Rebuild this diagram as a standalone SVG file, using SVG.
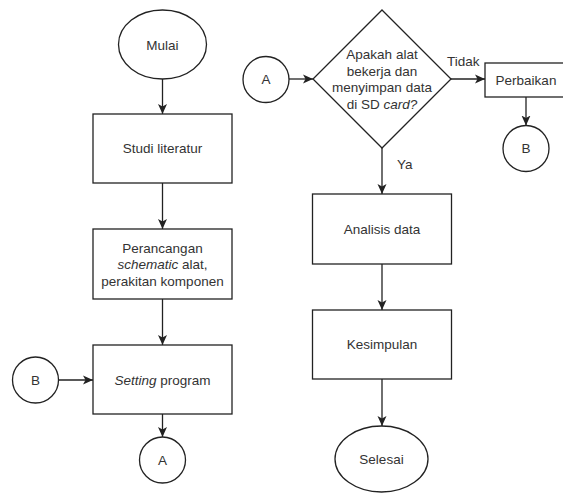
<svg xmlns="http://www.w3.org/2000/svg" width="563" height="493" viewBox="0 0 563 493">
<defs>
<style>
.s{fill:#fff;stroke:#222;stroke-width:1.3}
.t{font-family:"Liberation Sans",Arial,sans-serif;font-size:13.5px;fill:#333;text-anchor:middle}
.l{font-family:"Liberation Sans",Arial,sans-serif;font-size:13.5px;fill:#333}
.c{fill:none;stroke:#222;stroke-width:1.3}
</style>
<marker id="ah" markerUnits="userSpaceOnUse" markerWidth="10" markerHeight="10" viewBox="0 0 10 10" refX="10" refY="5" orient="auto">
<path d="M0,0.5 L10,5 L0,9.5 L2.5,5 z" fill="#222"/>
</marker>
</defs>
<rect width="563" height="493" fill="#fff"/>
<g id="connectors">
<line class="c" x1="162.5" y1="79" x2="162.5" y2="114" marker-end="url(#ah)"/>
<line class="c" x1="162.5" y1="183" x2="162.5" y2="229" marker-end="url(#ah)"/>
<line class="c" x1="162.5" y1="299" x2="162.5" y2="345" marker-end="url(#ah)"/>
<line class="c" x1="58.5" y1="380" x2="93" y2="380" marker-end="url(#ah)"/>
<line class="c" x1="162.5" y1="414" x2="162.5" y2="437" marker-end="url(#ah)"/>
<line class="c" x1="289" y1="79" x2="313" y2="79" marker-end="url(#ah)"/>
<line class="c" x1="451" y1="79" x2="485" y2="79" marker-end="url(#ah)"/>
<text class="l" x="447" y="66">Tidak</text>
<line class="c" x1="526" y1="97" x2="526" y2="125.5" marker-end="url(#ah)"/>
<line class="c" x1="382" y1="148" x2="382" y2="194" marker-end="url(#ah)"/>
<text class="l" x="397" y="169">Ya</text>
<line class="c" x1="382" y1="264" x2="382" y2="310" marker-end="url(#ah)"/>
<line class="c" x1="382" y1="379" x2="382" y2="426" marker-end="url(#ah)"/>
</g>
<g id="mulai">
<ellipse class="s" cx="162.5" cy="44.5" rx="44" ry="34.5"/>
<text class="t" x="162.5" y="49.5">Mulai</text>
</g>
<g id="studi">
<rect class="s" x="93" y="114" width="139" height="69"/>
<text class="t" x="162.5" y="153">Studi literatur</text>
</g>
<g id="perancangan">
<rect class="s" x="93" y="229" width="139" height="70"/>
<text class="t" x="162.5" y="252.5">Perancangan</text>
<text class="t" x="162.5" y="269"><tspan font-style="italic">schematic</tspan> alat,</text>
<text class="t" x="162.5" y="285.5">perakitan komponen</text>
</g>
<g id="setting">
<rect class="s" x="93" y="345" width="139" height="69"/>
<text class="t" x="162.5" y="384.5"><tspan font-style="italic">Setting</tspan> program</text>
</g>
<g id="b-left">
<circle class="s" cx="35.5" cy="380" r="23"/>
<text class="t" x="35.5" y="384.5">B</text>
</g>
<g id="a-bottom">
<circle class="s" cx="162.5" cy="460" r="23"/>
<text class="t" x="162.5" y="464.5">A</text>
</g>
<g id="a-right">
<circle class="s" cx="266" cy="79.5" r="23"/>
<text class="t" x="266" y="84">A</text>
</g>
<g id="decision">
<polygon class="s" points="382,10 451,79 382,148 313,79"/>
<text class="t" x="382" y="59">Apakah alat</text>
<text class="t" x="382" y="75.5">bekerja dan</text>
<text class="t" x="382" y="92">menyimpan data</text>
<text class="t" x="382" y="108.5">di SD <tspan font-style="italic">card?</tspan></text>
</g>
<g id="perbaikan">
<rect class="s" x="485" y="63" width="82" height="34"/>
<text class="t" x="526" y="84.5">Perbaikan</text>
</g>
<g id="b-right">
<circle class="s" cx="526" cy="148.5" r="23"/>
<text class="t" x="526" y="153">B</text>
</g>
<g id="analisis">
<rect class="s" x="312.5" y="194" width="139" height="70"/>
<text class="t" x="382" y="233.5">Analisis data</text>
</g>
<g id="kesimpulan">
<rect class="s" x="312.5" y="310" width="139" height="69"/>
<text class="t" x="382" y="349">Kesimpulan</text>
</g>
<g id="selesai">
<ellipse class="s" cx="381.5" cy="459" rx="46.5" ry="33"/>
<text class="t" x="381.5" y="463.5">Selesai</text>
</g>
</svg>
